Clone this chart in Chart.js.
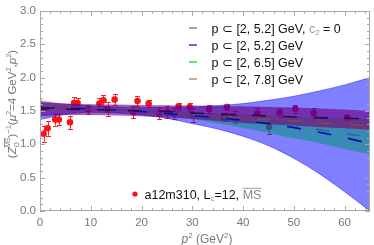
<!DOCTYPE html>
<html><head><meta charset="utf-8">
<script src="https://cdn.jsdelivr.net/npm/chart.js@4.4.1/dist/chart.umd.min.js"></script>
<style>html,body{margin:0;padding:0;background:#fff;}canvas{display:block;}</style>
</head><body>
<canvas id="c" width="374" height="245"></canvas>
<script>
// ---- data ----
const p2 = [0.7,1.5,3.0,3.7,5.9,6.7,7.4,9.5,11.7,12.5,13.3,14.7,18.4,19.2,21.4,23.5,25.1,26.4,27.3,29.5,30.1,33.3,36.2,36.8,38.4,42.8,45.1,47.2,50.3,53.9,60.5];
const Zval = [1.16,1.24,1.37,1.37,1.33,1.62,1.62,1.52,1.61,1.66,1.53,1.67,1.48,1.65,1.61,1.47,1.48,1.46,1.57,1.56,1.44,1.53,1.41,1.56,1.41,1.46,1.26,1.47,1.53,1.47,1.40];
const Zerr = [0.12,0.11,0.09,0.08,0.10,0.09,0.07,0.07,0.08,0.08,0.10,0.08,0.09,0.07,0.05,0.09,0.09,0.08,0.05,0.06,0.10,0.06,0.06,0.05,0.09,0.08,0.10,0.065,0.06,0.07,0.04];

const fitGrid = [0,5,10,15,20,25,30,35,40,45,50,55,60,65];
// p in [2,5.2], c2 = 0
const purpleMid = [1.53,1.525,1.52,1.51,1.50,1.49,1.47,1.455,1.44,1.425,1.41,1.40,1.39,1.38];
const purpleTop = [1.63,1.61,1.60,1.595,1.59,1.585,1.58,1.575,1.57,1.56,1.55,1.535,1.52,1.50];
const purpleBot = [1.42,1.44,1.44,1.43,1.42,1.40,1.38,1.35,1.32,1.30,1.28,1.26,1.24,1.22];
// p in [2,5.2]
const blueMid = [1.55,1.545,1.53,1.51,1.49,1.46,1.43,1.40,1.36,1.31,1.25,1.18,1.10,1.01];
const blueTop = [1.64,1.60,1.575,1.56,1.55,1.55,1.56,1.58,1.61,1.66,1.72,1.80,1.89,2.00];
const blueBot = [1.37,1.45,1.48,1.47,1.44,1.39,1.31,1.23,1.12,0.98,0.79,0.56,0.29,0.00];
// p in [2,6.5]
const greenMid = [1.55,1.545,1.53,1.515,1.495,1.47,1.44,1.41,1.375,1.33,1.28,1.22,1.16,1.11];
const greenTop = [1.60,1.57,1.55,1.535,1.52,1.50,1.48,1.46,1.45,1.43,1.42,1.40,1.39,1.38];
const greenBot = [1.50,1.52,1.51,1.495,1.47,1.44,1.38,1.31,1.25,1.17,1.09,1.02,0.93,0.85];
// p in [2,7.8]
const orangeMid = [1.58,1.55,1.525,1.505,1.485,1.46,1.44,1.415,1.39,1.37,1.35,1.32,1.30,1.28];
const orangeTop = [1.68,1.60,1.545,1.52,1.50,1.48,1.46,1.44,1.42,1.40,1.38,1.36,1.35,1.34];
const orangeBot = [1.48,1.50,1.505,1.49,1.47,1.44,1.42,1.39,1.36,1.34,1.31,1.28,1.25,1.22];

const xTicks = [0,10,20,30,40,50,60];
const yTicks = [0.0,0.5,1.0,1.5,2.0,2.5,3.0];
const legendLabels = ['p \u2282 [2, 5.2] GeV, ', 'p \u2282 [2, 5.2] GeV', 'p \u2282 [2, 6.5] GeV', 'p \u2282 [2, 7.8] GeV'];
const legendColors = ['#9a5a9a','#1a1add','#22cc22','#c07a3a'];

const pts = arr => fitGrid.map((x,i)=>({x:x, y:arr[i]}));
const FONT = '"Liberation Sans", Arial, sans-serif';

function band(top, bot, fillColor, edge, order) {
  return [
    {data: pts(top), showLine:true, pointRadius:0, borderWidth: edge?0.8:0, borderColor: edge||'rgba(0,0,0,0)',
     backgroundColor: fillColor, fill:'+1', order: order, cubicInterpolationMode:'monotone'},
    {data: pts(bot), showLine:true, pointRadius:0, borderWidth: edge?0.8:0, borderColor: edge||'rgba(0,0,0,0)',
     fill:false, order: order, cubicInterpolationMode:'monotone'}
  ];
}
function mid(arr, color, order, offset) {
  return {data: pts(arr), showLine:true, pointRadius:0, borderWidth:1.6, borderColor: color,
    borderDash:[14,17], borderDashOffset: offset, fill:false, order: order, cubicInterpolationMode:'monotone'};
}

const datasets = [
  {data: p2.map((x,i)=>({x:x, y:Zval[i]})), showLine:false, pointRadius:3.3, pointBackgroundColor:'#ff1010',
   pointBorderWidth:0, order: 20},
  ...band(blueTop, blueBot, 'rgba(0,0,255,0.5)', 'rgba(40,40,255,0.7)', 10),
  ...band(greenTop, greenBot, 'rgba(0,150,120,0.55)', null, 9),
  ...band(orangeTop, orangeBot, 'rgba(220,130,40,0.3)', null, 8),
  ...band(purpleTop, purpleBot, 'rgba(110,0,130,0.62)', null, 7),
  mid(orangeMid, '#7a4a50', 4, 0),
  mid(greenMid, '#2a6a9a', 3, 2),
  mid(blueMid, '#0a0aa8', 2, 0),
  mid(purpleMid, '#3a0548', 1, 5)
];

const errorBars = {
  id:'errorBars',
  beforeDatasetsDraw(chart){
    const {ctx, chartArea:a, scales:{x,y}} = chart;
    ctx.save();
    ctx.beginPath(); ctx.rect(a.left,a.top,a.right-a.left,a.bottom-a.top); ctx.clip();
    ctx.strokeStyle = '#ff2020'; ctx.lineWidth = 1;
    for (let i=0;i<p2.length;i++){
      const px = Math.round(x.getPixelForValue(p2[i]))+0.5;
      const y1 = y.getPixelForValue(Zval[i]+Zerr[i]);
      const y2 = y.getPixelForValue(Zval[i]-Zerr[i]);
      ctx.beginPath();
      ctx.moveTo(px,y1); ctx.lineTo(px,y2);
      ctx.moveTo(px-2.5,Math.round(y1)+0.5); ctx.lineTo(px+2.5,Math.round(y1)+0.5);
      ctx.moveTo(px-2.5,Math.round(y2)+0.5); ctx.lineTo(px+2.5,Math.round(y2)+0.5);
      ctx.stroke();
    }
    ctx.restore();
  }
};

function drawParts(ctx, parts, x0, y0, align) {
  // parts: [text, size, color, style, dy, overline, noAdvance]
  let total = 0;
  parts.forEach(p => { ctx.font = (p[3]||'') + ' ' + p[1] + 'px ' + FONT; p.w = ctx.measureText(p[0]).width; if(!p[6]) total += p.w; });
  let x = align==='center' ? x0 - total/2 : x0;
  parts.forEach(p => {
    ctx.font = (p[3]||'') + ' ' + p[1] + 'px ' + FONT;
    ctx.fillStyle = p[2];
    ctx.fillText(p[0], x, y0 + (p[4]||0));
    if (p[5]) {
      ctx.fillRect(x, y0 + (p[4]||0) - p[1]*0.85, p.w, 0.8);
    }
    if (!p[6]) x += p.w;
  });
}

const frame = {
  id:'frame',
  afterDraw(chart){
    const {ctx, chartArea:a, scales:{x,y}} = chart;
    ctx.save();
    ctx.strokeStyle = '#a8a8a8'; ctx.lineWidth = 1;
    ctx.strokeRect(Math.round(a.left)+0.5, Math.round(a.top)+0.5, Math.round(a.right-a.left)-1, Math.round(a.bottom-a.top)-1);
    ctx.beginPath();
    for (let v=0; v<=65; v+=2){
      const px = Math.round(x.getPixelForValue(v))+0.5;
      const len = (v%10===0)?5:3;
      ctx.moveTo(px,a.bottom); ctx.lineTo(px,a.bottom-len);
      ctx.moveTo(px,a.top); ctx.lineTo(px,a.top+len);
    }
    for (let k=0; k<=30; k++){
      const py = Math.round(y.getPixelForValue(k/10))+0.5;
      const len = (k%5===0)?5:3;
      ctx.moveTo(a.left,py); ctx.lineTo(a.left+len,py);
      ctx.moveTo(a.right,py); ctx.lineTo(a.right-len,py);
    }
    ctx.stroke();

    // top-right legend
    ctx.textBaseline = 'alphabetic';
    const rows = [32.5, 49.5, 66.5, 83.5];
    rows.forEach((ry,i)=>{
      ctx.strokeStyle = legendColors[i]; ctx.lineWidth = 1.3;
      ctx.beginPath(); ctx.moveTo(189, ry-4.5); ctx.lineTo(197, ry-4.5); ctx.stroke();
      if (i===0) {
        drawParts(ctx, [[legendLabels[0],12.5,'#111'],['c',12.5,'#999'],['2',8,'#999','',2.5],[' = 0',12.5,'#111']], 211.5, ry, 'left');
      } else {
        drawParts(ctx, [[legendLabels[i],12.5,'#111']], 211.5, ry, 'left');
      }
    });

    // bottom legend
    ctx.fillStyle = '#ff1010';
    ctx.beginPath(); ctx.arc(135, 194, 2.6, 0, Math.PI*2); ctx.fill();
    drawParts(ctx, [['a12m310, L',12.5,'#111'],['c',8,'#999','',2.5],['=12, ',12.5,'#111'],['MS',12.5,'#888','',0,true]], 144.5, 198.5, 'left');

    // x title
    drawParts(ctx, [['p',12,'#777','italic'],['2',8,'#777','',-5],[' (GeV',12,'#777'],['2',8,'#777','',-5],[')',12,'#777']], 207, 242.5, 'center');

    // y title (rotated)
    ctx.translate(16, 104);
    ctx.rotate(-Math.PI/2);
    drawParts(ctx, [['(',11.5,'#777'],['Z',11.5,'#777','italic'],['O',6.5,'#777','',3,false,true],['MS',6.5,'#777','',-6.5,true],
      [')',11.5,'#777'],['\u22121',7.5,'#777','',-5],['(',11.5,'#777'],['\u03bc',11.5,'#777','italic'],['2',7.5,'#777','',-5],
      ['=4 GeV',11.5,'#777'],['2',7.5,'#777','',-5],[',',11.5,'#777'],['p',11.5,'#777','italic'],['2',7.5,'#777','',-5],[')',11.5,'#777']], 0, 0, 'center');
    ctx.restore();
  }
};

new Chart(document.getElementById('c'), {
  type:'scatter',
  data:{datasets: datasets},
  options:{
    responsive:false, animation:false, devicePixelRatio:1,
    layout:{padding:{top:7, right:1, left:0, bottom:0}},
    plugins:{legend:{display:false}, tooltip:{enabled:false}},
    elements:{line:{tension:0.4}},
    scales:{
      x:{type:'linear', min:0, max:65,
        afterFit(s){ s.height = 34; },
        afterBuildTicks(s){ s.ticks = xTicks.map(v=>({value:v})); },
        grid:{display:false, drawTicks:false}, border:{display:false},
        ticks:{color:'#777', font:{family:FONT, size:11.5}, padding:5, maxRotation:0}
      },
      y:{type:'linear', min:0, max:3,
        afterFit(s){ s.width = 40; },
        afterBuildTicks(s){ s.ticks = yTicks.map(v=>({value:v})); },
        grid:{display:false, drawTicks:false}, border:{display:false},
        ticks:{color:'#777', font:{family:FONT, size:11.5}, padding:4, callback:v=>Number(v).toFixed(1)}
      }
    }
  },
  plugins:[errorBars, frame]
});
</script>
</body></html>
